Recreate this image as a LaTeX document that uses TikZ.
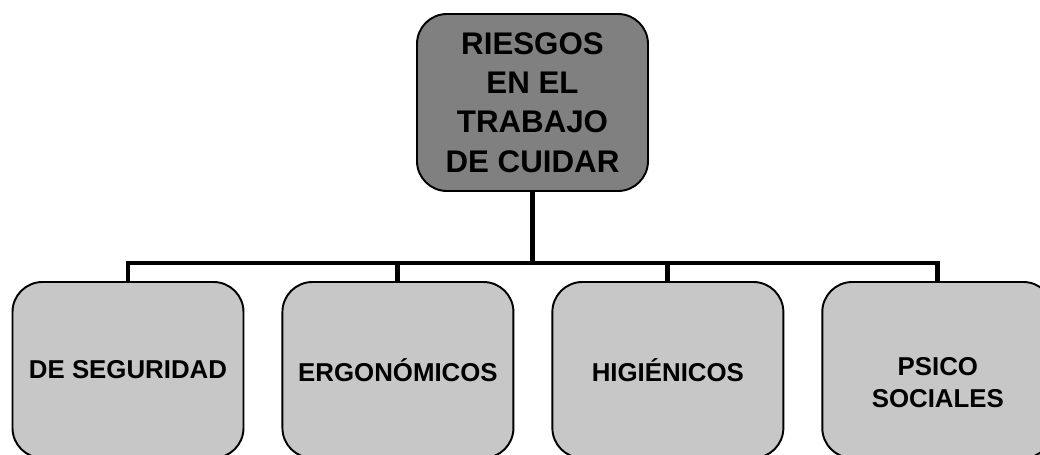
\documentclass[tikz,border=0pt]{standalone}
\usepackage{fontspec}
\setmainfont{Liberation Sans}
\usepackage{tikz}
\usetikzlibrary{positioning}

\begin{document}
\begin{tikzpicture}[
    font=\bfseries,
    topbox/.style={rectangle, draw, line width=1.1pt, rounded corners=0.6cm, minimum width=4.62cm, minimum height=3.54cm, align=center, fill=black!50, text=black, font=\fontsize{17.8}{22.3}\selectfont\bfseries},
    riskbox/.style={rectangle, draw, line width=1.1pt, rounded corners=0.6cm, minimum width=4.62cm, minimum height=3.52cm, align=center, fill=black!22, text=black, font=\fontsize{14.7}{17.8}\selectfont\bfseries},
    link/.style={line width=2.8pt, color=black},
    node distance=0.74cm
]
\clip (0,0) rectangle (20.8,9.08);

% top node
\node[topbox] (riesgos) at (10.65,7.03) {RIESGOS\\EN EL\\TRABAJO\\DE CUIDAR};

% four kinds of risk
\node[riskbox] (seguridad) at (2.56,1.68) {DE SEGURIDAD};
\node[riskbox, right=of seguridad] (ergo) {ERGONÓMICOS};
\node[riskbox, right=of ergo]      (higi) {HIGIÉNICOS};
\node[riskbox, right=of higi]      (psico) {\rule{0pt}{0.86cm}PSICO\\SOCIALES};

\coordinate[below=1.42cm of riesgos.south] (bar);

\draw[link] (riesgos.south) -- (bar) -| (seguridad.north);
\draw[link] (riesgos.south) -- (bar) -| (ergo.north);
\draw[link] (riesgos.south) -- (bar) -| (higi.north);
\draw[link] (riesgos.south) -- (bar) -| (psico.north);

\end{tikzpicture}
\end{document}
